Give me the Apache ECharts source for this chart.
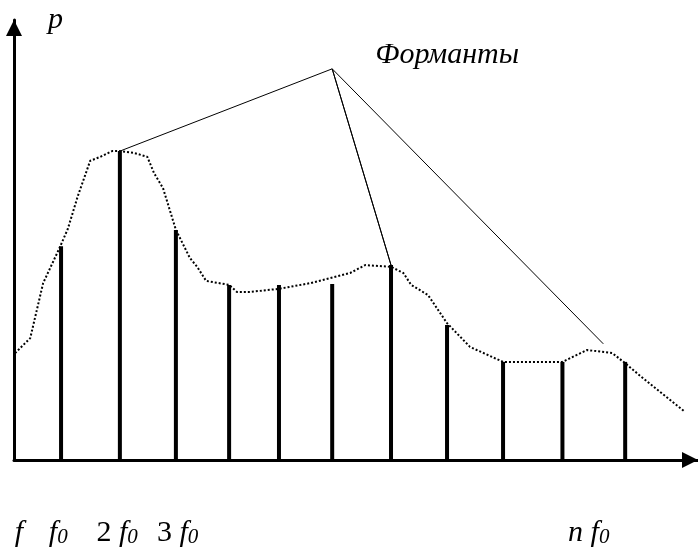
<!DOCTYPE html>
<html>
<head>
<meta charset="utf-8">
<script src="https://cdn.jsdelivr.net/npm/echarts@6/dist/echarts.min.js"></script>
<style>
  html, body { margin: 0; padding: 0; background: #fff; }
  #chart { width: 698px; height: 548px; }
</style>
</head>
<body>
<div id="chart"></div>
<script>
// harmonics: position on the frequency axis (units of ~f0) and amplitude p
var harmX = [0.84, 1.89, 2.89, 3.84, 4.73, 5.68, 6.73, 7.73, 8.73, 9.79, 10.91];
var harmP = [48.6, 70.2, 52.3, 39.8, 39.8, 40.0, 44.3, 30.7, 22.3, 22.3, 22.3];

// dotted spectral envelope
var envX = [0.02, 0.29, 0.52, 0.82, 0.96, 1.14, 1.36, 1.54, 1.75, 1.89, 2.14, 2.38, 2.5, 2.66, 2.89,
  3.14, 3.27, 3.43, 3.84, 3.98, 4.21, 4.73, 5.29, 6.0, 6.27, 6.73, 6.95, 7.09, 7.39, 7.73,
  8.14, 8.73, 9.79, 10.0, 10.23, 10.68, 10.91, 11.18, 11.98];
var envP = [24.3, 27.7, 40.2, 48.4, 52.5, 60.0, 68.0, 68.9, 70.2, 70.2, 69.8, 68.9, 65.2, 61.8, 52.3,
  45.9, 43.9, 40.7, 39.8, 38.2, 38.2, 38.9, 40.2, 42.5, 44.3, 43.9, 42.5, 39.8, 37.5, 31.1,
  25.7, 22.3, 22.3, 23.6, 25.0, 24.3, 22.0, 19.1, 10.9];

// pointer lines to the formants (apex is where the caption sits)
var formantX = [1.89, 5.68, 6.73, 5.68, 10.52];
var formantP = [70.2, 88.9, 44.3, 88.9, 26.4];
var formantName = 'Форманты';

// bottom labels
var tickValues = [0.09, 0.79, 1.84, 2.92, 10.26];
var tickPrefix = ['', '', '2 ', '3 ', 'n '];
var tickSub = [false, true, true, true, true];

var serif = 'Liberation Serif';

var chart = echarts.init(document.getElementById('chart'));

var bars = harmX.map(function (x, i) { return [x, harmP[i]]; });
var env = envX.map(function (x, i) { return [x, envP[i]]; });
var formant = formantX.map(function (x, i) {
  var item = { value: [x, formantP[i]] };
  if (i === 1) {
    item.label = {
      show: true,
      formatter: formantName,
      position: 'inside',
      offset: [115, -14],
      fontFamily: serif,
      fontStyle: 'italic',
      fontSize: 30,
      color: '#000'
    };
  }
  return item;
});

option = {
  animation: false,
  backgroundColor: '#fff',
  grid: {
    left: 14,
    right: 0,
    top: 20,
    bottom: 88
  },
  xAxis: {
    type: 'value',
    min: 0,
    max: 12.21,
    splitLine: { show: false },
    axisTick: { show: false },
    axisLine: {
      onZero: false,
      symbol: ['none', 'triangle'],
      symbolSize: [16, 16],
      symbolOffset: [0, -8],
      lineStyle: { color: '#000', width: 3 }
    },
    axisLabel: {
      customValues: tickValues,
      margin: 56,
      formatter: function (value) {
        var i = tickValues.indexOf(value);
        if (i < 0) return '';
        var pre = tickPrefix[i];
        var s = '';
        if (pre) s += (pre === 'n ' ? '{i|' + pre + '}' : '{d|' + pre + '}');
        s += '{i|f}';
        if (tickSub[i]) s += '{s|0}';
        return s;
      },
      rich: {
        i: { fontFamily: serif, fontStyle: 'italic', fontSize: 30, color: '#000', lineHeight: 32, verticalAlign: 'bottom' },
        d: { fontFamily: serif, fontSize: 30, color: '#000', lineHeight: 32, verticalAlign: 'bottom' },
        s: { fontFamily: serif, fontStyle: 'italic', fontSize: 21, color: '#000', lineHeight: 32, verticalAlign: 'bottom', padding: [0, 0, 0, 0] }
      }
    }
  },
  yAxis: {
    type: 'value',
    min: 0,
    max: 100,
    name: 'p',
    nameLocation: 'end',
    nameGap: 0,
    nameTextStyle: {
      fontFamily: serif,
      fontStyle: 'italic',
      fontSize: 30,
      color: '#000',
      align: 'left',
      verticalAlign: 'middle',
      padding: [0, 0, 0, 34]
    },
    splitLine: { show: false },
    axisTick: { show: false },
    axisLabel: { show: false },
    axisLine: {
      onZero: false,
      symbol: ['none', 'triangle'],
      symbolSize: [16, 16],
      symbolOffset: [0, -8],
      lineStyle: { color: '#000', width: 3 }
    }
  },
  series: [
    {
      type: 'line',
      data: env,
      symbol: 'none',
      smooth: false,
      lineStyle: { color: '#000', width: 2, type: [2, 2] },
      z: 1
    },
    {
      type: 'bar',
      data: bars,
      barWidth: 4,
      itemStyle: { color: '#000' },
      z: 2
    },
    {
      type: 'line',
      data: formant,
      symbol: 'circle',
      symbolSize: 0.1,
      showSymbol: true,
      lineStyle: { color: '#000', width: 1 },
      itemStyle: { color: 'transparent' },
      z: 3
    }
  ]
};

if (option && typeof option === 'object') {
  chart.setOption(option, true);
}
</script>
</body>
</html>
